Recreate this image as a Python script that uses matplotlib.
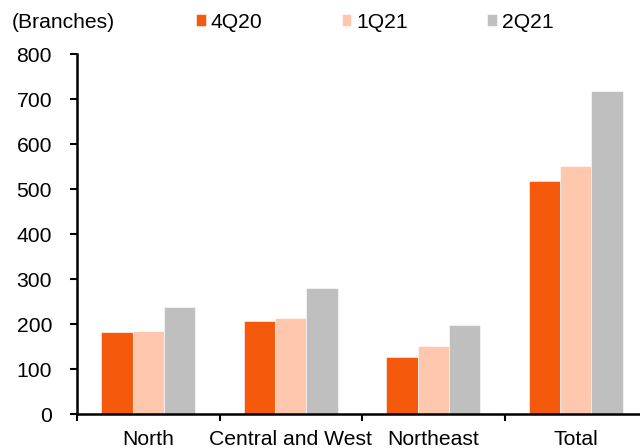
import matplotlib
matplotlib.use("Agg")
import matplotlib.pyplot as plt
import numpy as np

plt.rcParams['font.family'] = ['Liberation Sans', 'DejaVu Sans']

regions = ["North", "Central and West", "Northeast", "Total"]
q4_20 = [183, 207, 127, 518]
q1_21 = [185, 215, 151, 552]
q2_21 = [238, 281, 198, 718]
series_names = ["4Q20", "1Q21", "2Q21"]
colors = ["#F5590C", "#FFC7AE", "#BFBFBF"]

fs = 15.2

fig = plt.figure(figsize=(6.4, 4.48), dpi=100)
ax = fig.add_axes([77/640, 33.7/448, 570/640, 360/448])

x = np.arange(len(regions))
w = 0.22
for i, vals in enumerate([q4_20, q1_21, q2_21]):
    ax.bar(x + (i - 1) * w, vals, w, color=colors[i], label=series_names[i],
           edgecolor="white", linewidth=0.4)

ax.set_xlim(-0.5, 3.5)
ax.set_ylim(0, 800)
ax.set_yticks(range(0, 801, 100))
ax.tick_params(axis='y', labelsize=fs, length=5, width=1.5, direction='out', pad=13)

ax.set_xticks(x)
ax.set_xticklabels(regions, fontsize=fs)
ax.tick_params(axis='x', which='major', length=0, pad=11)
ax.set_xticks(np.arange(-0.5, 3.6, 1), minor=True)
ax.tick_params(axis='x', which='minor', length=5, width=1.5, direction='out')

for s in ["top", "right"]:
    ax.spines[s].set_visible(False)
for s in ["left", "bottom"]:
    ax.spines[s].set_linewidth(1.8)

fig.text(12/640, 1 - 22/448, "(Branches)", fontsize=fs, va='center', ha='left')
ax.legend(loc='center left', bbox_to_anchor=(196/640, 1 - 22/448),
          bbox_transform=fig.transFigure, ncol=3, frameon=False, fontsize=fs,
          handlelength=0.45, handleheight=0.45, handletextpad=0.25,
          columnspacing=3.75, borderaxespad=0, borderpad=0)

fig.savefig("out.png", dpi=100)
